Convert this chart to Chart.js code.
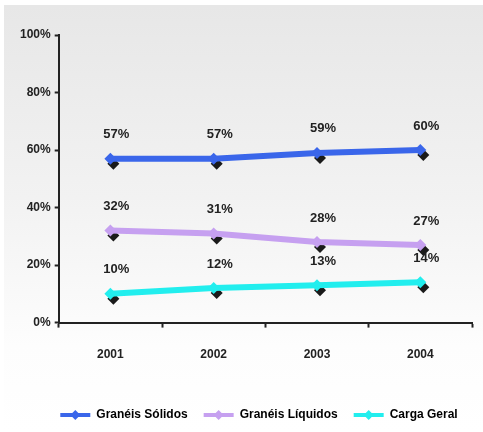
<!DOCTYPE html>
<html>
<head>
<meta charset="utf-8">
<script src="https://cdn.jsdelivr.net/npm/chart.js@4/dist/chart.umd.min.js"></script>
<style>
  html, body { margin: 0; padding: 0; background: #ffffff; }
  #wrap { width: 483px; height: 432px; }
</style>
</head>
<body>
<div id="wrap"><canvas id="lineChart" width="483" height="432"></canvas></div>
<script>
var years = ["2001", "2002", "2003", "2004"];
var solidos = [57, 57, 59, 60];
var liquidos = [32, 31, 28, 27];
var cargaGeral = [10, 12, 13, 14];
var yTicks = [0, 20, 40, 60, 80, 100];

var FONT = "'Liberation Sans', Arial, sans-serif";

// gray-to-white panel behind everything
var backgroundPanel = {
    id: "backgroundPanel",
    beforeDraw: function (chart) {
        var ctx = chart.ctx;
        var grad = ctx.createLinearGradient(0, 5, 0, 432);
        grad.addColorStop(0, "#e7e7e7");
        grad.addColorStop(0.45, "#f2f2f2");
        grad.addColorStop(0.8, "#fdfdfd");
        grad.addColorStop(1, "#ffffff");
        ctx.save();
        ctx.fillStyle = "#ffffff";
        ctx.fillRect(0, 0, chart.width, chart.height);
        ctx.fillStyle = grad;
        ctx.fillRect(4, 5, chart.width - 4, chart.height - 5);
        ctx.restore();
    }
};

// nudge the legend row a bit to the right (hit boxes get rebuilt in afterUpdate)
var legendShift = {
    id: "legendShift",
    afterLayout: function (chart) {
        var legend = chart.legend;
        if (!legend) return;
        legend.left += 15;
        legend.right += 15;
    }
};

function diamond(ctx, x, y, r) {
    ctx.beginPath();
    ctx.moveTo(x, y - r);
    ctx.lineTo(x + r, y);
    ctx.lineTo(x, y + r);
    ctx.lineTo(x - r, y);
    ctx.closePath();
    ctx.fill();
}

// dark offset diamonds under each marker
var markerShadow = {
    id: "markerShadow",
    beforeDatasetsDraw: function (chart) {
        var ctx = chart.ctx;
        ctx.save();
        ctx.fillStyle = "#1a1a1a";
        chart.data.datasets.forEach(function (ds, i) {
            chart.getDatasetMeta(i).data.forEach(function (pt) {
                diamond(ctx, pt.x + 3, pt.y + 5, 6);
            });
        });
        ctx.restore();
    }
};

// percent labels above the points
var pointLabels = {
    id: "pointLabels",
    afterDatasetsDraw: function (chart) {
        var ctx = chart.ctx;
        ctx.save();
        ctx.fillStyle = "#222222";
        ctx.font = "bold 13px " + FONT;
        ctx.textAlign = "center";
        ctx.textBaseline = "middle";
        chart.data.datasets.forEach(function (ds, i) {
            chart.getDatasetMeta(i).data.forEach(function (pt, j) {
                ctx.fillText(ds.data[j] + "%", pt.x + 6, pt.y - 24);
            });
        });
        ctx.restore();
    }
};

// diamond on top of each legend line
var legendMarkers = {
    id: "legendMarkers",
    afterDraw: function (chart) {
        var legend = chart.legend;
        if (!legend || !legend.legendHitBoxes) return;
        var ctx = chart.ctx;
        ctx.save();
        legend.legendHitBoxes.forEach(function (box, i) {
            ctx.fillStyle = chart.data.datasets[i].borderColor;
            diamond(ctx, box.left + 15, box.top + box.height / 2, 5);
        });
        ctx.restore();
    }
};

var ctx = document.getElementById("lineChart").getContext("2d");

var myChart = new Chart(ctx, {
    type: "line",
    data: {
        labels: years,
        datasets: [
            {
                label: "Granéis Sólidos",
                data: solidos,
                borderColor: "#3a66ea",
                backgroundColor: "#3a66ea",
                borderWidth: 6,
                pointStyle: "rectRot",
                pointRadius: 6,
                pointBorderWidth: 0
            },
            {
                label: "Granéis Líquidos",
                data: liquidos,
                borderColor: "#c6a0f0",
                backgroundColor: "#c6a0f0",
                borderWidth: 6,
                pointStyle: "rectRot",
                pointRadius: 6,
                pointBorderWidth: 0
            },
            {
                label: "Carga Geral",
                data: cargaGeral,
                borderColor: "#22eeee",
                backgroundColor: "#22eeee",
                borderWidth: 6,
                pointStyle: "rectRot",
                pointRadius: 6,
                pointBorderWidth: 0
            }
        ]
    },
    options: {
        responsive: false,
        animation: false,
        layout: {
            padding: { left: 16, right: 11, top: 35, bottom: 1 }
        },
        plugins: {
            tooltip: { enabled: false },
            legend: {
                position: "bottom",
                labels: {
                    color: "#222222",
                    font: { family: FONT, size: 12, weight: "bold" },
                    boxWidth: 30,
                    boxHeight: 4,
                    padding: 16,
                    generateLabels: function (chart) {
                        return chart.data.datasets.map(function (ds, i) {
                            return {
                                text: ds.label,
                                fillStyle: ds.borderColor,
                                strokeStyle: ds.borderColor,
                                lineWidth: 0,
                                datasetIndex: i
                            };
                        });
                    }
                }
            }
        },
        scales: {
            x: {
                offset: true,
                afterFit: function (axis) {
                    axis.height += 11;
                },
                grid: {
                    display: true,
                    drawOnChartArea: false,
                    offset: true,
                    color: "#222222",
                    tickLength: 5,
                    tickWidth: 2
                },
                border: { color: "#222222", width: 2 },
                ticks: {
                    color: "#222222",
                    font: { family: FONT, size: 12, weight: "bold" },
                    padding: 20
                }
            },
            y: {
                min: 0,
                max: 100,
                afterBuildTicks: function (axis) {
                    axis.ticks = yTicks.map(function (v) { return { value: v }; });
                },
                grid: {
                    display: true,
                    drawOnChartArea: false,
                    color: "#222222",
                    tickLength: 4,
                    tickWidth: 2
                },
                border: { color: "#222222", width: 2 },
                ticks: {
                    color: "#222222",
                    font: { family: FONT, size: 12, weight: "bold" },
                    padding: 4,
                    callback: function (v) { return v + "%"; }
                }
            }
        }
    },
    plugins: [backgroundPanel, legendShift, markerShadow, pointLabels, legendMarkers]
});
</script>
</body>
</html>
